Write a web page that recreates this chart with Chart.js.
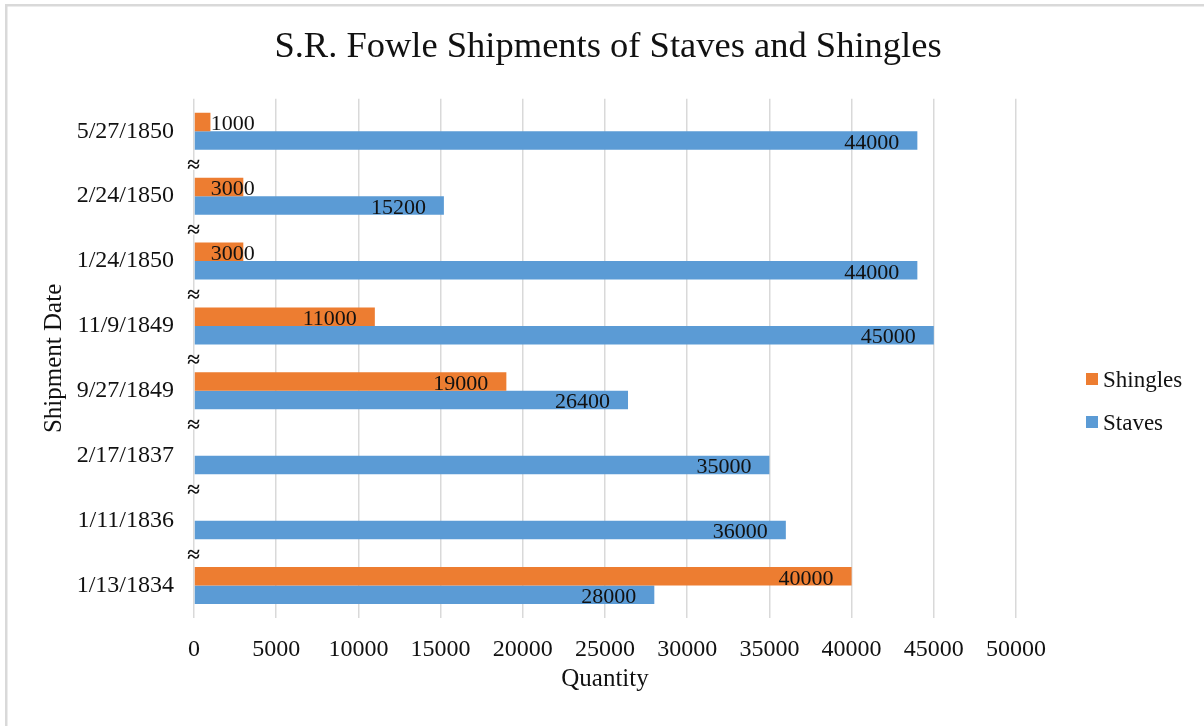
<!DOCTYPE html>
<html>
<head>
<meta charset="utf-8">
<title>S.R. Fowle Shipments of Staves and Shingles</title>
<script src="https://cdn.jsdelivr.net/npm/chart.js@4.4.1/dist/chart.umd.min.js"></script>
<style>
  html, body { margin: 0; padding: 0; background: #fff; }
  #wrap { width: 1204px; height: 726px; position: relative; }
  canvas { display: block; }
</style>
</head>
<body>
<div id="wrap"><canvas id="chart" width="1204" height="726"></canvas></div>
<script>
// Shipment dates, oldest first (drawn bottom to top)
const shipmentDates = ['1/13/1834', '1/11/1836', '2/17/1837', '9/27/1849', '11/9/1849', '1/24/1850', '2/24/1850', '5/27/1850'];
// Quantities shipped on each date (null = none shipped)
const shingles = [40000, null, null, 19000, 11000, 3000, 3000, 1000];
const staves   = [28000, 36000, 35000, 26400, 45000, 44000, 15200, 44000];
// Quantity axis ticks
const quantityTicks = [0, 5000, 10000, 15000, 20000, 25000, 30000, 35000, 40000, 45000, 50000];

const SERIF = "'Liberation Serif', 'Times New Roman', serif";
const TEXT = '#111111';

// White page with a thin grey frame along the top and left edges
const framePlugin = {
  id: 'frame',
  beforeDraw(chart) {
    const ctx = chart.ctx;
    ctx.save();
    ctx.fillStyle = '#ffffff';
    ctx.fillRect(0, 0, chart.width, chart.height);
    ctx.strokeStyle = '#d9d9d9';
    ctx.lineWidth = 2.5;
    ctx.strokeRect(6.25, 5.25, chart.width + 20, chart.height + 20);
    ctx.restore();
  }
};

// Value labels placed just inside the end of each bar
const valueLabelPlugin = {
  id: 'valueLabels',
  afterDatasetsDraw(chart) {
    const ctx = chart.ctx;
    ctx.save();
    ctx.font = '22px ' + SERIF;
    ctx.fillStyle = TEXT;
    ctx.textAlign = 'right';
    ctx.textBaseline = 'middle';
    chart.data.datasets.forEach((ds, di) => {
      const meta = chart.getDatasetMeta(di);
      meta.data.forEach((bar, i) => {
        const v = ds.data[i];
        if (v === null || v === undefined) return;
        const txt = String(v);
        const w = ctx.measureText(txt).width;
        const right = Math.max(bar.x - 18, bar.base + 16 + w);
        ctx.fillText(txt, right, bar.y + 2.5);
      });
    });
    ctx.restore();
  }
};

// Axis-break marks between consecutive dates on the vertical axis
const breakMarkPlugin = {
  id: 'breakMarks',
  afterDatasetsDraw(chart) {
    const y = chart.scales.y;
    const x0 = chart.chartArea.left;
    const ctx = chart.ctx;
    ctx.save();
    ctx.font = 'bold 23px ' + SERIF;
    ctx.textAlign = 'center';
    ctx.textBaseline = 'middle';
    for (let i = 0; i < shipmentDates.length - 1; i++) {
      const yy = (y.getPixelForValue(i) + y.getPixelForValue(i + 1)) / 2;
      ctx.fillStyle = '#ffffff';
      ctx.fillRect(x0 - 2, yy - 2, 4, 8);
      ctx.fillStyle = TEXT;
      ctx.fillText('\u2248', x0 - 0.5, yy + 2.5);
    }
    ctx.restore();
  }
};

// Legend to the right of the plot
const sideLegendPlugin = {
  id: 'sideLegend',
  afterDraw(chart) {
    const ctx = chart.ctx;
    const area = chart.chartArea;
    const bx = area.right + 70;
    const rows = [379, 422];
    ctx.save();
    ctx.font = '23px ' + SERIF;
    ctx.textAlign = 'left';
    ctx.textBaseline = 'middle';
    chart.data.datasets.forEach((ds, i) => {
      const cy = rows[i];
      ctx.fillStyle = ds.backgroundColor;
      ctx.fillRect(bx, cy - 6, 12, 12);
      ctx.fillStyle = TEXT;
      ctx.fillText(ds.label, bx + 17, cy + 2);
    });
    ctx.restore();
  }
};

new Chart(document.getElementById('chart'), {
  type: 'bar',
  data: {
    labels: shipmentDates,
    datasets: [
      { label: 'Shingles', data: shingles, backgroundColor: '#ed7d31' },
      { label: 'Staves', data: staves, backgroundColor: '#5b9bd5' }
    ]
  },
  plugins: [framePlugin, valueLabelPlugin, breakMarkPlugin, sideLegendPlugin],
  options: {
    indexAxis: 'y',
    responsive: false,
    animation: false,
    devicePixelRatio: 1,
    layout: { padding: { left: 12, top: 0, right: 0, bottom: 0 } },
    datasets: {
      bar: { categoryPercentage: 0.57, barPercentage: 1.0, borderWidth: 0 }
    },
    plugins: {
      legend: { display: false },
      tooltip: { enabled: false },
      title: {
        display: true,
        text: 'S.R. Fowle Shipments of Staves and Shingles',
        color: TEXT,
        font: { family: SERIF, size: 36.5, weight: 'normal' },
        padding: { top: 26, bottom: 29 }
      }
    },
    scales: {
      x: {
        min: 0,
        max: 50000,
        afterBuildTicks: s => { s.ticks = quantityTicks.map(v => ({ value: v })); },
        afterFit: s => { s.height = 108; },
        grid: { color: '#d9d9d9', lineWidth: 1.5, drawTicks: false },
        border: { display: false },
        ticks: {
          color: TEXT,
          font: { family: SERIF, size: 24 },
          padding: 17,
          maxRotation: 0,
          callback: v => String(v)
        },
        title: {
          display: true,
          text: 'Quantity',
          color: TEXT,
          font: { family: SERIF, size: 25 },
          padding: { top: 0, bottom: 32 }
        }
      },
      y: {
        reverse: true,
        afterFit: s => { s.width = 182; },
        grid: { display: false, drawTicks: false },
        border: { display: false },
        ticks: {
          color: TEXT,
          font: { family: SERIF, size: 24 },
          padding: 20
        },
        title: {
          display: true,
          text: 'Shipment Date',
          color: TEXT,
          font: { family: SERIF, size: 25 },
          padding: { top: 27, bottom: 0 }
        }
      },
      // Empty right-hand band that holds the legend
      legendBand: {
        type: 'category',
        axis: 'y',
        position: 'right',
        afterFit: s => { s.width = 188; },
        grid: { display: false, drawTicks: false },
        border: { display: false },
        ticks: { display: false }
      }
    }
  }
});
</script>
</body>
</html>
